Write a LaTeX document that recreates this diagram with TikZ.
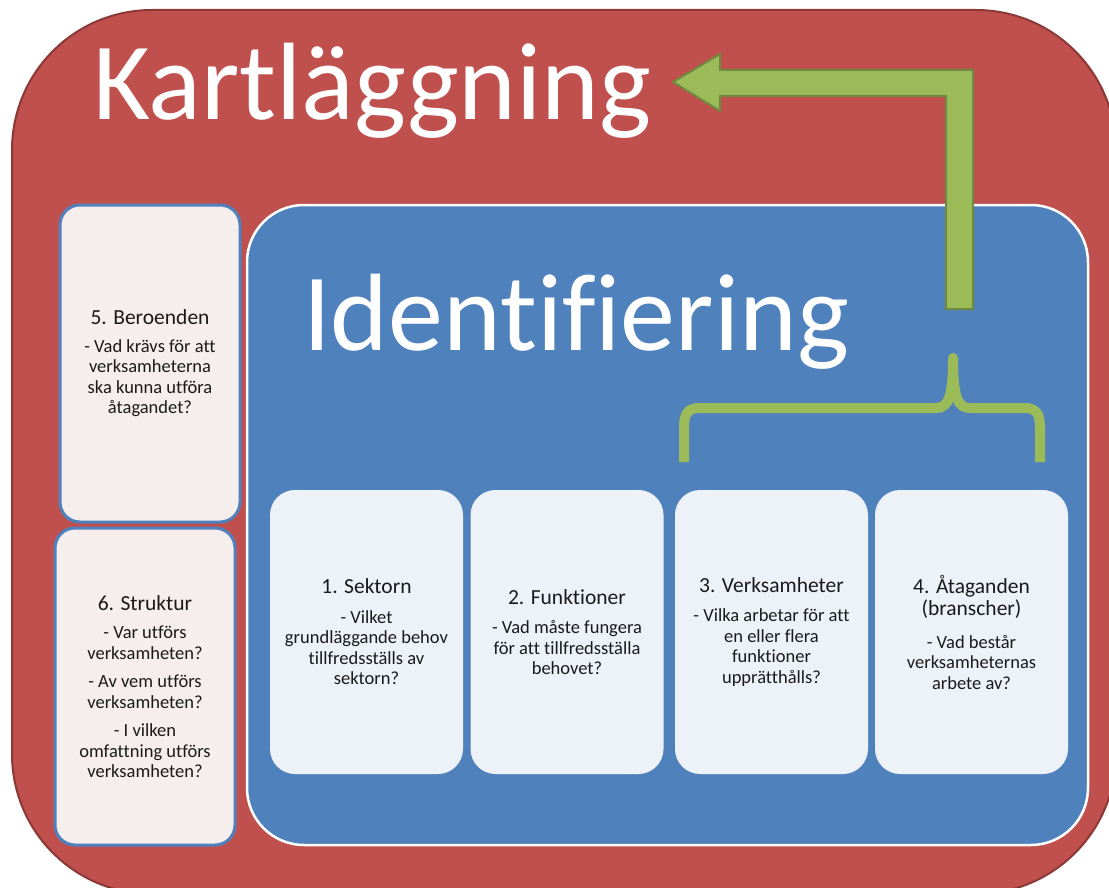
\documentclass[tikz,border=0pt]{standalone}
\usepackage{fontspec}
\setmainfont{Carlito}[Ligatures={NoCommon}]
\definecolor{redfill}{HTML}{C0504D}
\definecolor{redline}{HTML}{8C3836}
\definecolor{bluefill}{HTML}{4F81BD}
\definecolor{pinkbox}{HTML}{F6EDED}
\definecolor{lightblue}{HTML}{EDF2F9}
\definecolor{greenfill}{HTML}{9BBB59}
\definecolor{greenline}{HTML}{71893F}
\definecolor{txt}{HTML}{1A1A1A}
\tikzset{
  sidebox/.style={draw=bluefill, line width=3pt, fill=pinkbox, rounded corners=20pt,
    minimum width=180pt, minimum height=317pt, inner sep=0pt, align=center, text=txt,
    font=\fontsize{18.5}{20.5}\selectfont},
  stepbox/.style={fill=lightblue, rounded corners=25pt, minimum width=193pt,
    minimum height=284pt, inner sep=0pt, align=center, text=txt,
    font=\fontsize{18.5}{20.5}\selectfont},
  bigtitle/.style={text=white, font=\fontsize{110}{130}\selectfont, inner sep=0pt, anchor=base west},
}
\newcommand{\ttl}[1]{{\fontsize{21.5}{24}\selectfont #1}}
\begin{document}
\begin{tikzpicture}[x=1pt,y=-1pt]
\useasboundingbox (0,0) rectangle (1109,888);
\clip (0,0) rectangle (1109,888);
% outer red shape
\draw[redline, line width=2pt, fill=redfill, rounded corners=140pt] (12,10) rectangle (1116,894);
\node[bigtitle] (kart) at (93,120) {Kartläggning};
% blue inner shape
\draw[white, line width=2.5pt, fill=bluefill, rounded corners=57pt] (247,205) rectangle (1088,845);
\node[bigtitle] (ident) at (303,350) {Identifiering};
% side boxes
\node[sidebox] (b5) at (150,363.5) {\ttl{5. Beroenden}\\[7pt] - Vad krävs för att\\ verksamheterna\\ ska kunna utföra\\ åtagandet?};
\node[sidebox] (b6) at (145,686.5) {\ttl{6. Struktur}\\[8pt] - Var utförs\\ verksamheten?\\[8pt] - Av vem utförs\\ verksamheten?\\[8pt] - I vilken\\ omfattning utförs\\ verksamheten?};
% step boxes
\node[stepbox] (b1) at (366.5,632) {\ttl{1. Sektorn}\\[9pt] - Vilket\\ grundläggande behov\\ tillfredsställs av\\ sektorn?};
\node[stepbox] (b2) at (567,632) {\ttl{2. Funktioner}\\[9pt] - Vad måste fungera\\ för att tillfredsställa\\ behovet?};
\node[stepbox] (b3) at (771.5,632) {\ttl{3. Verksamheter}\\[9pt] - Vilka arbetar för att\\ en eller flera\\ funktioner\\ upprätthålls?};
\node[stepbox] (b4) at (971.5,632) {\ttl{4. Åtaganden}\\[2pt] \ttl{(branscher)}\\[12pt] - Vad består\\ verksamheternas\\ arbete av?};
% brace
\draw[greenfill, line width=10pt, line join=round]
  (684,462) -- (684,428) .. controls (684,413) and (688,408) .. (700,408) -- (936,408)
  .. controls (948,408) and (953,398) .. (953,358);
\draw[greenfill, line width=10pt, line join=round]
  (1040,462) -- (1040,428) .. controls (1040,413) and (1036,408) .. (1024,408) -- (970,408)
  .. controls (958,408) and (953,398) .. (953,358);
\fill[greenfill] (953,358) circle (5pt);
% elbow arrow
\draw[greenline, line width=2pt, fill=greenfill, line join=miter]
  (673,82) -- (720,54) -- (720,70) -- (973,70) -- (973,309) -- (946,309) -- (946,96) -- (720,96) -- (720,111) -- cycle;
\end{tikzpicture}
\end{document}
